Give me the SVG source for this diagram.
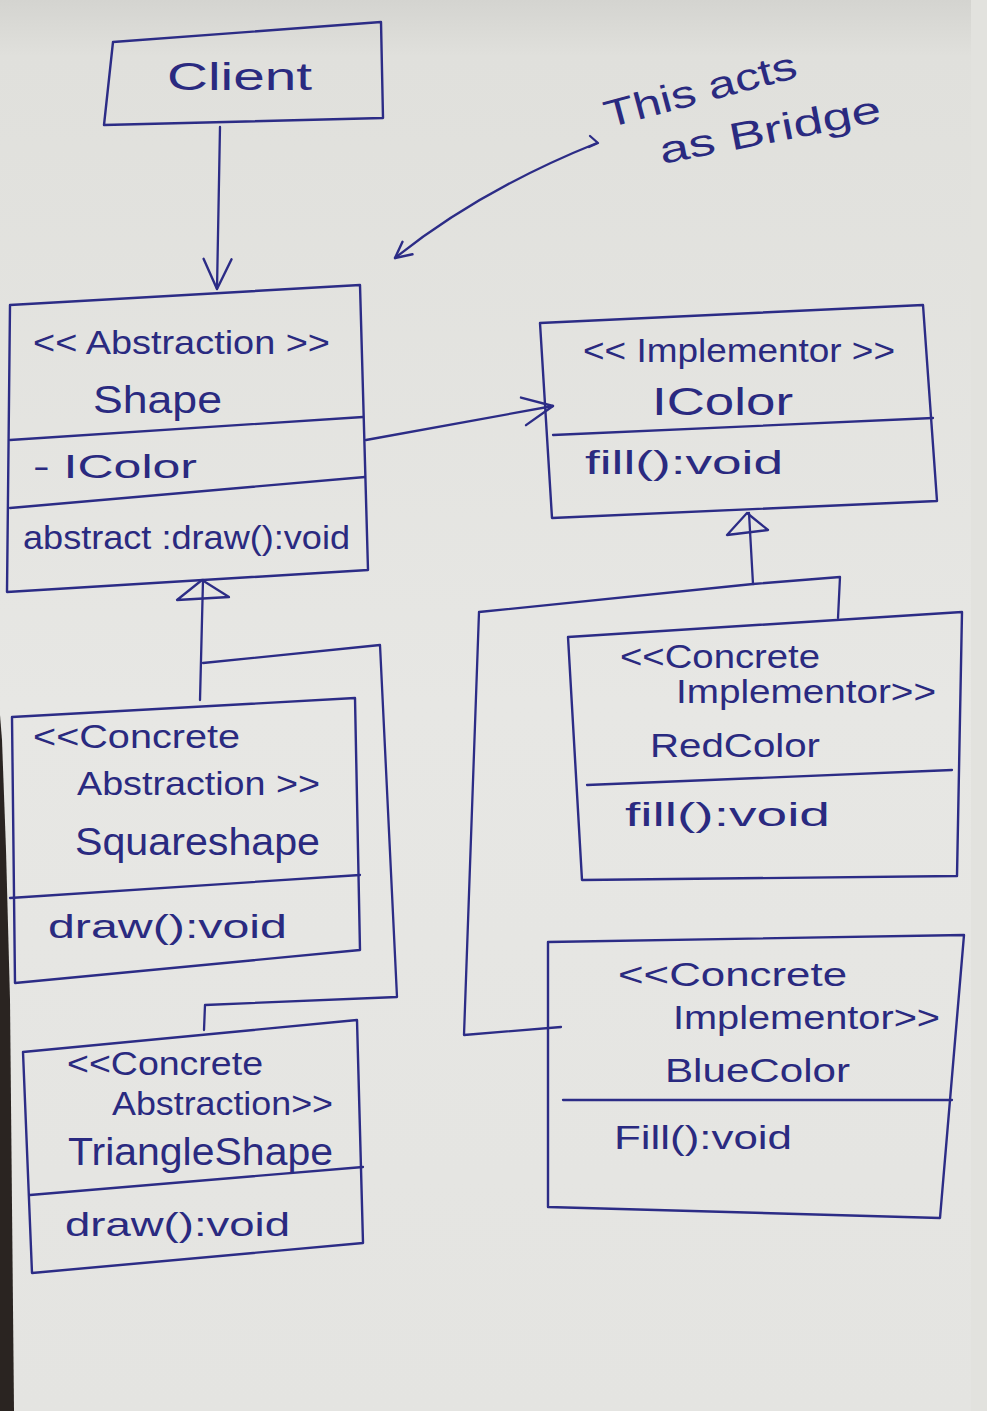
<svg xmlns="http://www.w3.org/2000/svg" width="987" height="1411" viewBox="0 0 987 1411">
<defs>
<linearGradient id="paper" x1="0" y1="0" x2="0" y2="1">
<stop offset="0" stop-color="#d4d4d0"/>
<stop offset="0.04" stop-color="#e0e0dc"/>
<stop offset="0.5" stop-color="#e7e7e4"/>
<stop offset="1" stop-color="#e4e4e1"/>
</linearGradient>
<marker id="vhead" viewBox="0 0 20 20" refX="18" refY="10" markerWidth="20" markerHeight="20" markerUnits="userSpaceOnUse" orient="auto">
<path d="M2,2 L18,10 L2,18" fill="none" stroke="#2c2c86" stroke-width="2.4" stroke-linecap="round" stroke-linejoin="round"/>
</marker>
<marker id="vheadS" viewBox="0 0 40 40" refX="36" refY="20" markerWidth="40" markerHeight="40" markerUnits="userSpaceOnUse" orient="auto">
<path d="M6,6 L36,20 L6,34" fill="none" stroke="#2c2c86" stroke-width="2.4" stroke-linecap="round" stroke-linejoin="round"/>
</marker>
</defs>
<style>
.box{fill:none;stroke:#2c2c86;stroke-width:2.4;stroke-linejoin:round}
.ln{fill:none;stroke:#2c2c86;stroke-width:2.3;stroke-linecap:round;stroke-linejoin:round}
.t{font-family:"Liberation Sans","DejaVu Sans",sans-serif;fill:#2a2a80;font-size:34px}
.big{font-size:38px}
</style>
<rect x="0" y="0" width="987" height="1411" fill="url(#paper)"/>
<rect x="971" y="0" width="16" height="1411" fill="#e2e2de"/>
<polygon points="0,715 2,740 6,850 10,1000 14,1411 0,1411" fill="#2a2421"/>

<g id="client">
<polygon class="box" points="113,42 381,22 383,118 104,125"/>
<text class="t big" x="167" y="90" textLength="145" lengthAdjust="spacingAndGlyphs">Client</text>
</g>

<g id="note">
<text class="t big" transform="translate(608,128) rotate(-15)" textLength="198" lengthAdjust="spacingAndGlyphs">This acts</text>
<text class="t big" transform="translate(662,164) rotate(-11)" textLength="225" lengthAdjust="spacingAndGlyphs">as Bridge</text>
</g>

<g id="shape">
<polygon class="box" points="10,305 360,285 368,570 7,592"/>
<line class="ln" x1="10" y1="440" x2="363" y2="417"/>
<line class="ln" x1="10" y1="508" x2="365" y2="477"/>
<text class="t" x="33" y="354" textLength="297" lengthAdjust="spacingAndGlyphs">&lt;&lt; Abstraction &gt;&gt;</text>
<text class="t big" x="93" y="413" textLength="129" lengthAdjust="spacingAndGlyphs">Shape</text>
<text class="t" x="33" y="478" textLength="164" lengthAdjust="spacingAndGlyphs">- IColor</text>
<text class="t" x="23" y="549" textLength="327" lengthAdjust="spacingAndGlyphs">abstract :draw():void</text>
</g>

<g id="icolor">
<polygon class="box" points="540,323 923,305 937,501 552,518"/>
<line class="ln" x1="553" y1="435" x2="933" y2="418"/>
<text class="t" x="583" y="362" textLength="312" lengthAdjust="spacingAndGlyphs">&lt;&lt; Implementor &gt;&gt;</text>
<text class="t big" x="652" y="415" textLength="141" lengthAdjust="spacingAndGlyphs">IColor</text>
<text class="t" x="585" y="474" textLength="198" lengthAdjust="spacingAndGlyphs">fill():void</text>
</g>

<g id="squareshape">
<polygon class="box" points="12,717 355,698 360,950 15,983"/>
<line class="ln" x1="10" y1="898" x2="360" y2="875"/>
<text class="t" x="33" y="748" textLength="207" lengthAdjust="spacingAndGlyphs">&lt;&lt;Concrete</text>
<text class="t" x="77" y="795" textLength="243" lengthAdjust="spacingAndGlyphs">Abstraction &gt;&gt;</text>
<text class="t big" x="75" y="855" textLength="245" lengthAdjust="spacingAndGlyphs">Squareshape</text>
<text class="t" x="48" y="938" textLength="239" lengthAdjust="spacingAndGlyphs">draw():void</text>
</g>

<g id="triangleshape">
<polygon class="box" points="23,1052 357,1020 363,1243 32,1273"/>
<line class="ln" x1="30" y1="1195" x2="363" y2="1167"/>
<text class="t" x="67" y="1075" textLength="196" lengthAdjust="spacingAndGlyphs">&lt;&lt;Concrete</text>
<text class="t" x="112" y="1115" textLength="221" lengthAdjust="spacingAndGlyphs">Abstraction&gt;&gt;</text>
<text class="t big" x="68" y="1165" textLength="265" lengthAdjust="spacingAndGlyphs">TriangleShape</text>
<text class="t" x="65" y="1236" textLength="225" lengthAdjust="spacingAndGlyphs">draw():void</text>
</g>

<g id="redcolor">
<polygon class="box" points="568,637 962,612 957,876 582,880"/>
<line class="ln" x1="587" y1="785" x2="952" y2="770"/>
<text class="t" x="620" y="668" textLength="200" lengthAdjust="spacingAndGlyphs">&lt;&lt;Concrete</text>
<text class="t" x="676" y="703" textLength="260" lengthAdjust="spacingAndGlyphs">Implementor&gt;&gt;</text>
<text class="t" x="650" y="757" textLength="170" lengthAdjust="spacingAndGlyphs">RedColor</text>
<text class="t" x="625" y="826" textLength="205" lengthAdjust="spacingAndGlyphs">fill():void</text>
</g>

<g id="bluecolor">
<polygon class="box" points="548,942 964,935 940,1218 548,1207"/>
<line class="ln" x1="563" y1="1100" x2="952" y2="1100"/>
<text class="t" x="618" y="986" textLength="229" lengthAdjust="spacingAndGlyphs">&lt;&lt;Concrete</text>
<text class="t" x="673" y="1029" textLength="267" lengthAdjust="spacingAndGlyphs">Implementor&gt;&gt;</text>
<text class="t" x="665" y="1082" textLength="185" lengthAdjust="spacingAndGlyphs">BlueColor</text>
<text class="t" x="614" y="1149" textLength="178" lengthAdjust="spacingAndGlyphs">Fill():void</text>
</g>

<g id="connectors">
<line class="ln" x1="220" y1="127" x2="217" y2="289" marker-end="url(#vheadS)"/>
<line class="ln" x1="366" y1="440" x2="553" y2="406" marker-end="url(#vheadS)"/>
<path class="ln" d="M597,143 Q480,190 395,258" marker-end="url(#vhead)"/>
<path class="ln" d="M590,136 L598,143 L589,147"/>
<polygon class="ln" points="202,580 177,600 229,597"/>
<line class="ln" x1="203" y1="580" x2="200" y2="700"/>
<polyline class="ln" points="203,663 380,645 397,997 205,1005 204,1030"/>
<polygon class="ln" points="747,513 727,535 768,530"/>
<line class="ln" x1="749" y1="513" x2="753" y2="584"/>
<polyline class="ln" points="838,618 840,577 753,584 479,612 464,1035 561,1027"/>
</g>
</svg>
